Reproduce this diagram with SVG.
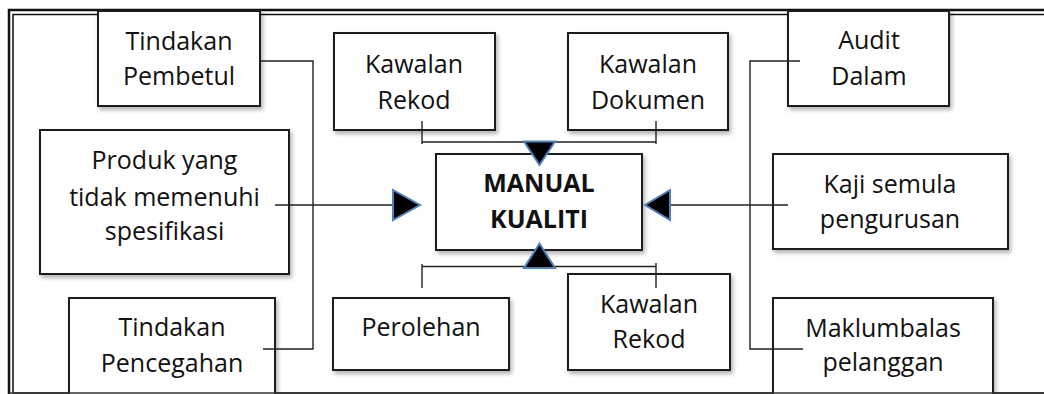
<svg xmlns="http://www.w3.org/2000/svg" width="1044" height="394" viewBox="0 0 1044 394">
  <defs>
    <filter id="shadow" x="-10%" y="-10%" width="130%" height="140%">
      <feDropShadow dx="2" dy="3" stdDeviation="2" flood-color="#000" flood-opacity="0.3"/>
    </filter>
  </defs>
  <style>
    .box { fill: #ffffff; stroke: #1a1a1a; stroke-width: 2; filter: url(#shadow); }
    .label { font-family: "Open Sans", "Noto Sans", sans-serif; font-size: 25px; fill: #111; text-anchor: middle; }
    .title { font-weight: bold; }
    .wire { fill: none; stroke: #222; stroke-width: 1.4; }
    .head { fill: #000; stroke: #4f81bd; stroke-width: 2; stroke-linejoin: miter; }
    .frame { fill: none; stroke: #111; }
  </style>

  <rect width="1044" height="394" fill="#ffffff"/>

  <!-- double page frame -->
  <g id="frame">
    <rect class="frame" x="9" y="10" width="1100" height="400" stroke-width="2.5"/>
    <rect class="frame" x="13" y="14.5" width="1100" height="378.5" stroke-width="1.5"/>
  </g>

  <g id="tindakan-pembetul">
    <rect class="box" x="98" y="11" width="162" height="95"/>
    <text class="label" x="179" y="50">Tindakan</text>
    <text class="label" x="179" y="85">Pembetul</text>
  </g>

  <g id="kawalan-rekod-atas">
    <rect class="box" x="334" y="33" width="161" height="97"/>
    <text class="label" x="414" y="73">Kawalan</text>
    <text class="label" x="414" y="109">Rekod</text>
  </g>

  <g id="kawalan-dokumen">
    <rect class="box" x="568" y="33" width="160" height="97"/>
    <text class="label" x="648" y="73">Kawalan</text>
    <text class="label" x="648" y="109">Dokumen</text>
  </g>

  <g id="audit-dalam">
    <rect class="box" x="788" y="11" width="161" height="95"/>
    <text class="label" x="869" y="49">Audit</text>
    <text class="label" x="869" y="85">Dalam</text>
  </g>

  <g id="produk">
    <rect class="box" x="40" y="130" width="249" height="144"/>
    <text class="label" x="164.5" y="169">Produk yang</text>
    <text class="label" x="164.5" y="206">tidak memenuhi</text>
    <text class="label" x="164.5" y="240">spesifikasi</text>
  </g>

  <g id="manual-kualiti">
    <rect class="box" x="436" y="154" width="206" height="96"/>
    <text class="label title" x="539" y="192">MANUAL</text>
    <text class="label title" x="539" y="228">KUALITI</text>
  </g>

  <g id="kaji-semula">
    <rect class="box" x="773" y="154" width="235" height="95"/>
    <text class="label" x="890" y="193">Kaji semula</text>
    <text class="label" x="890" y="228">pengurusan</text>
  </g>

  <g id="tindakan-pencegahan">
    <rect class="box" x="69" y="298" width="206" height="110"/>
    <text class="label" x="172" y="336">Tindakan</text>
    <text class="label" x="172" y="372">Pencegahan</text>
  </g>

  <g id="perolehan">
    <rect class="box" x="333" y="298" width="176" height="72"/>
    <text class="label" x="421" y="336">Perolehan</text>
  </g>

  <g id="kawalan-rekod-bawah">
    <rect class="box" x="568" y="274" width="162" height="96"/>
    <text class="label" x="649" y="313">Kawalan</text>
    <text class="label" x="649" y="348">Rekod</text>
  </g>

  <g id="maklumbalas">
    <rect class="box" x="773" y="298" width="220" height="110"/>
    <text class="label" x="883" y="337">Maklumbalas</text>
    <text class="label" x="883" y="371">pelanggan</text>
  </g>

  <!-- frame bottom edge sits over the clipped boxes -->
  <line x1="9" y1="393" x2="1044" y2="393" stroke="#333" stroke-width="1.5"/>

  <g id="connectors">
    <!-- upper bracket joining the two top boxes -->
    <path class="wire" d="M422,121 V144 M422,142 H656 M656,121 V144"/>
    <!-- lower bracket joining the two bottom boxes -->
    <path class="wire" d="M422,288 V264 M422,266.5 H656 M656,263 V288"/>
    <!-- side feeds -->
    <path class="wire" d="M275,205 H394"/>
    <path class="wire" d="M788,205 H669"/>
    <!-- left and right C-shaped links -->
    <path class="wire" d="M260,61 H313 V349 H263"/>
    <path class="wire" d="M800,61 H750 V349 H803"/>
    <!-- arrowheads -->
    <polygon class="head" points="393,190 420,205 393,220"/>
    <polygon class="head" points="670,190 645,205 670,220"/>
    <polygon class="head" points="524,141.5 555,141.5 539.5,165"/>
    <polygon class="head" points="524,268 555,268 539.5,243.5"/>
  </g>
</svg>
